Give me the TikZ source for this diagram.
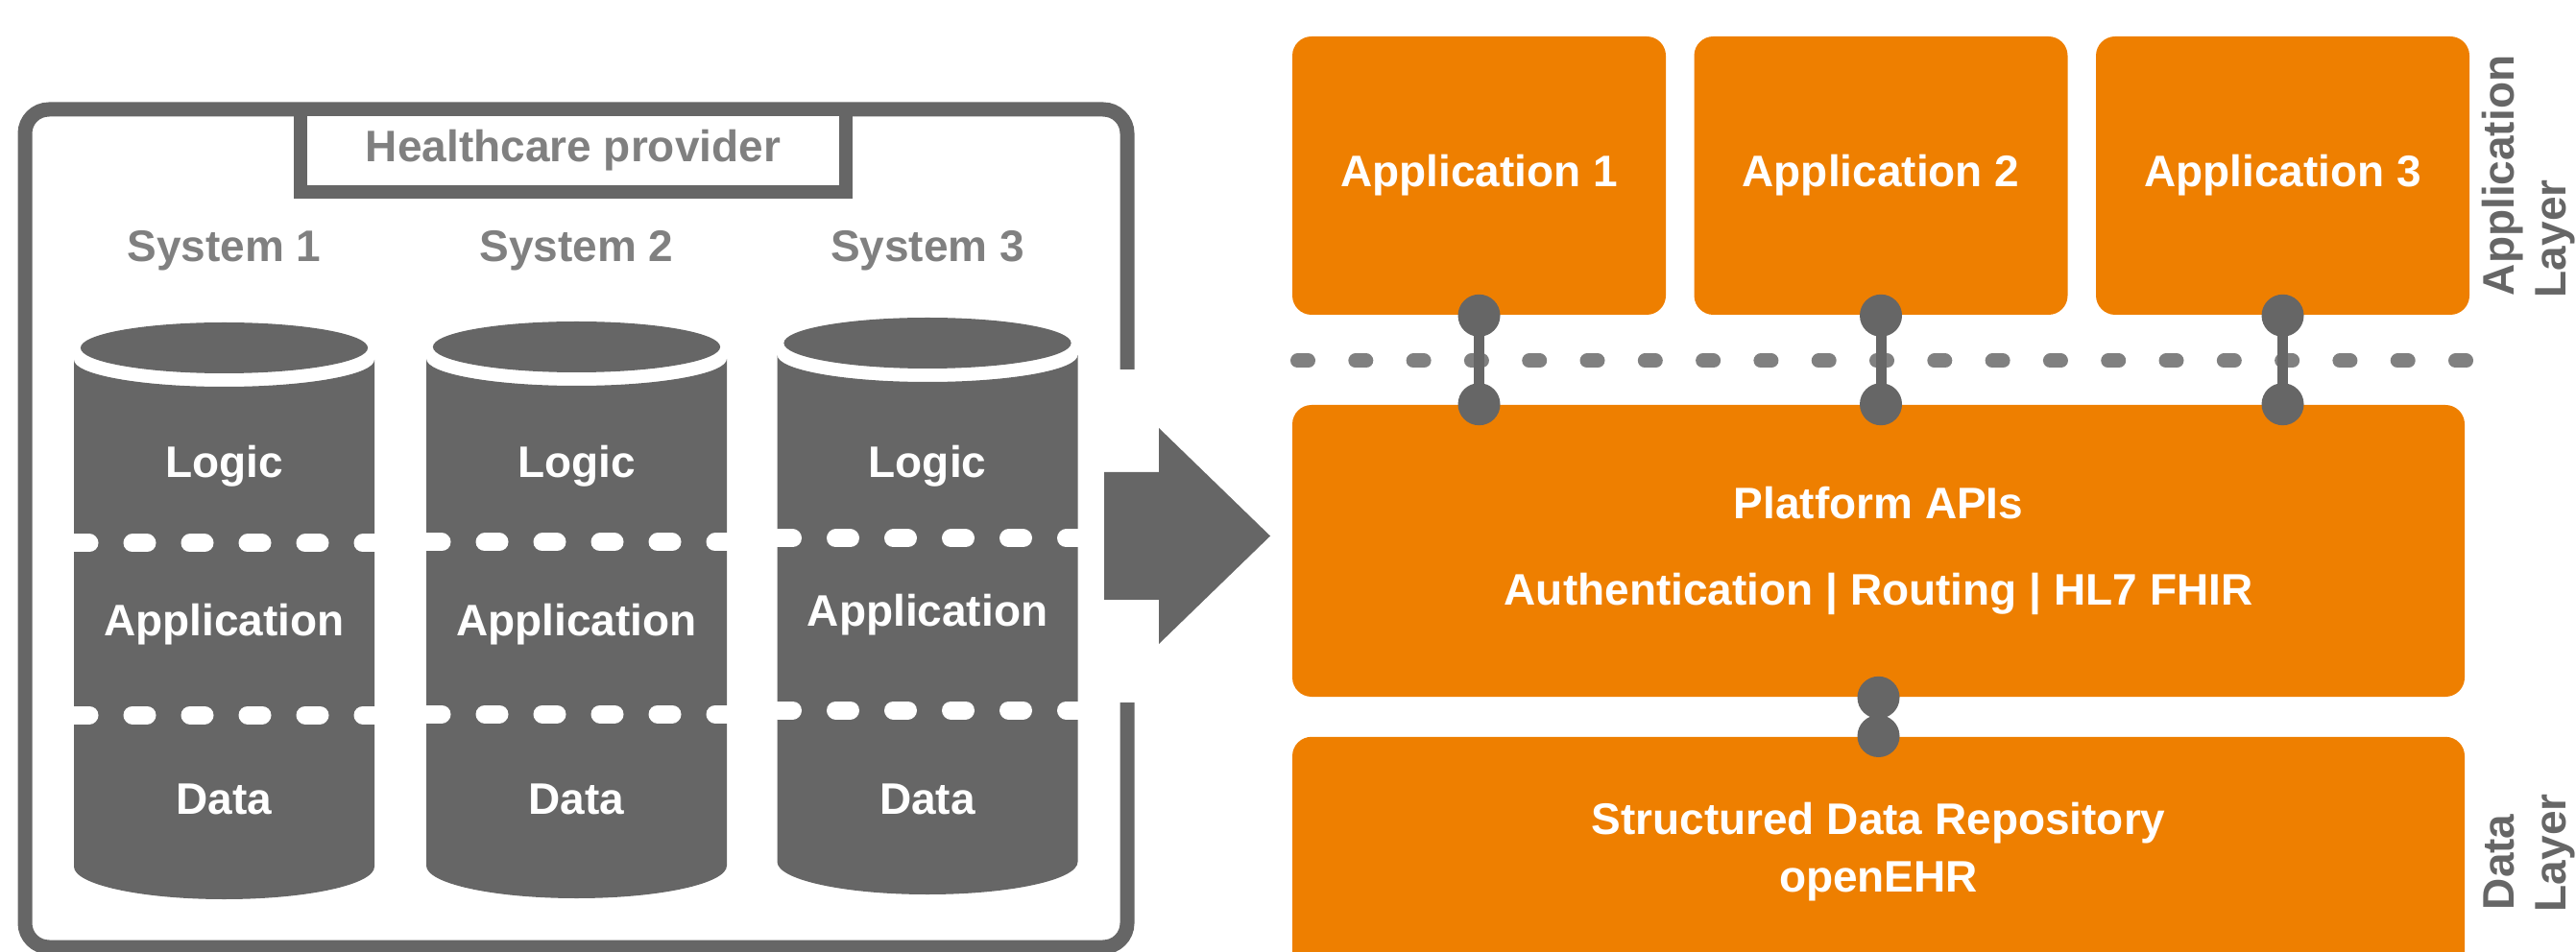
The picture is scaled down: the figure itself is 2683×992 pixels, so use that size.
\documentclass[tikz,border=0pt]{standalone}
\usepackage{fontspec}
\setmainfont{Liberation Sans}
\usetikzlibrary{calc}

\definecolor{hcorange}{HTML}{EE7F00}
\definecolor{hcgray}{HTML}{666666}
\definecolor{hclight}{HTML}{808080}

\begin{document}
\begin{tikzpicture}[x=0.25pt, y=-0.25pt,
    every node/.style={font=\fontsize{11.5pt}{13.8pt}\selectfont\bfseries, inner sep=0pt},
    panel/.style={fill=hcorange, rounded corners=5pt, text=white},
    pin/.style={fill=hcgray},
    link/.style={draw=hcgray, line width=2.75pt},
    tierline/.style={draw=white, line width=4.75pt, line cap=round,
        dash pattern=on 3.75pt off 11.25pt},
    layerline/.style={draw=hclight, line width=3.75pt, line cap=round,
        dash pattern=on 2.75pt off 12.325pt},
    layername/.style={text=hcgray, rotate=90, anchor=base west}]

    \useasboundingbox (0,0) rectangle (2683,992);
    \clip (0,0) rectangle (2683,992);

    % healthcare provider
    \draw[hcgray, line width=3.75pt, rounded corners=6.25pt]
        (1174,385) -- (1174,114) -- (26,114) -- (26,987) -- (1174,987) -- (1174,732);
    \node[draw=hcgray, line width=3.5pt, fill=white, text=hclight,
        minimum width=142pt, minimum height=21.5pt] (provider) at (597,157)
        {Healthcare provider};

    \foreach \cx/\dy/\ay/\n in {233.5/0/662/1, 600.5/1/662/2, 966/5/653/3} {
        \node[text=hclight, anchor=base] (sys\n) at (\cx,273) {System \n};
        \fill[hcgray] ({\cx},{362.5-\dy}) ellipse [x radius=37.4pt, y radius=6.625pt];
        \fill[hcgray] ({\cx-156.5},{375-\dy})
            arc[start angle=180, end angle=360, x radius=39.125pt, y radius=7pt]
            -- ({\cx+156.5},{903-\dy})
            arc[start angle=0, end angle=-180, x radius=39.125pt, y radius=8.5pt]
            -- cycle;
        \draw[tierline] ({\cx-155.5},{566-\dy}) -- ({\cx+165},{566-\dy});
        \draw[tierline] ({\cx-155.5},{745-\dy}) -- ({\cx+165},{745-\dy});
        \node[text=white, anchor=base] (logic\n) at (\cx,498) {Logic};
        \node[text=white, anchor=base] (tier\n) at (\cx,\ay) {Application};
        \node[text=white, anchor=base] (store\n) at (\cx,848) {Data};
    }

    \fill[hcgray] (1150,492) -- (1207,492) -- (1207,446) -- (1323,558.5)
        -- (1207,671) -- (1207,625) -- (1150,625) -- cycle;

    % platform
    \node[panel, minimum width=97.25pt, minimum height=72.5pt] (app1) at (1540.5,183) {Application 1};
    \node[panel, minimum width=97.25pt, minimum height=72.5pt] (app2) at (1959,183) {Application 2};
    \node[panel, minimum width=97.25pt, minimum height=72.5pt] (app3) at (2377.5,183) {Application 3};

    \node[panel, minimum width=305.25pt, minimum height=76pt, align=center,
        font=\fontsize{11.5pt}{22.5pt}\selectfont\bfseries] (api) at (1956.5,574)
        {Platform APIs\\Authentication | Routing | HL7 FHIR};

    \node[panel, minimum width=305.25pt, minimum height=75pt, anchor=north] (repo) at (1956.5,767) {};
    \node[text=white, align=center, font=\fontsize{11.5pt}{15pt}\selectfont\bfseries]
        (repotext) at (1956.5,888) {Structured Data Repository\\openEHR};

    \coordinate (dotl) at (1351.5,376);
    \coordinate (dotr) at (2570,376);
    \draw[layerline] (dotl) -- (dotr);

    \foreach \a in {app1,app2,app3} {
        \draw[link] (\a.south) -- (\a.south |- api.north);
        \fill[pin] (\a.south) circle (5.5pt);
        \fill[pin] (\a.south |- api.north) circle (5.5pt);
    }
    \draw[link] (api.south) -- (repo.north);
    \fill[pin] (api.south) circle (5.5pt);
    \fill[pin] (repo.north) circle (5.5pt);

    \node[layername] (applabel) at (2618,309) {Application};
    \node[layername] (applayer) at (2672,311) {Layer};
    \node[layername] (datalabel) at (2618,949) {Data};
    \node[layername] (datalayer) at (2672,951) {Layer};
\end{tikzpicture}
\end{document}
